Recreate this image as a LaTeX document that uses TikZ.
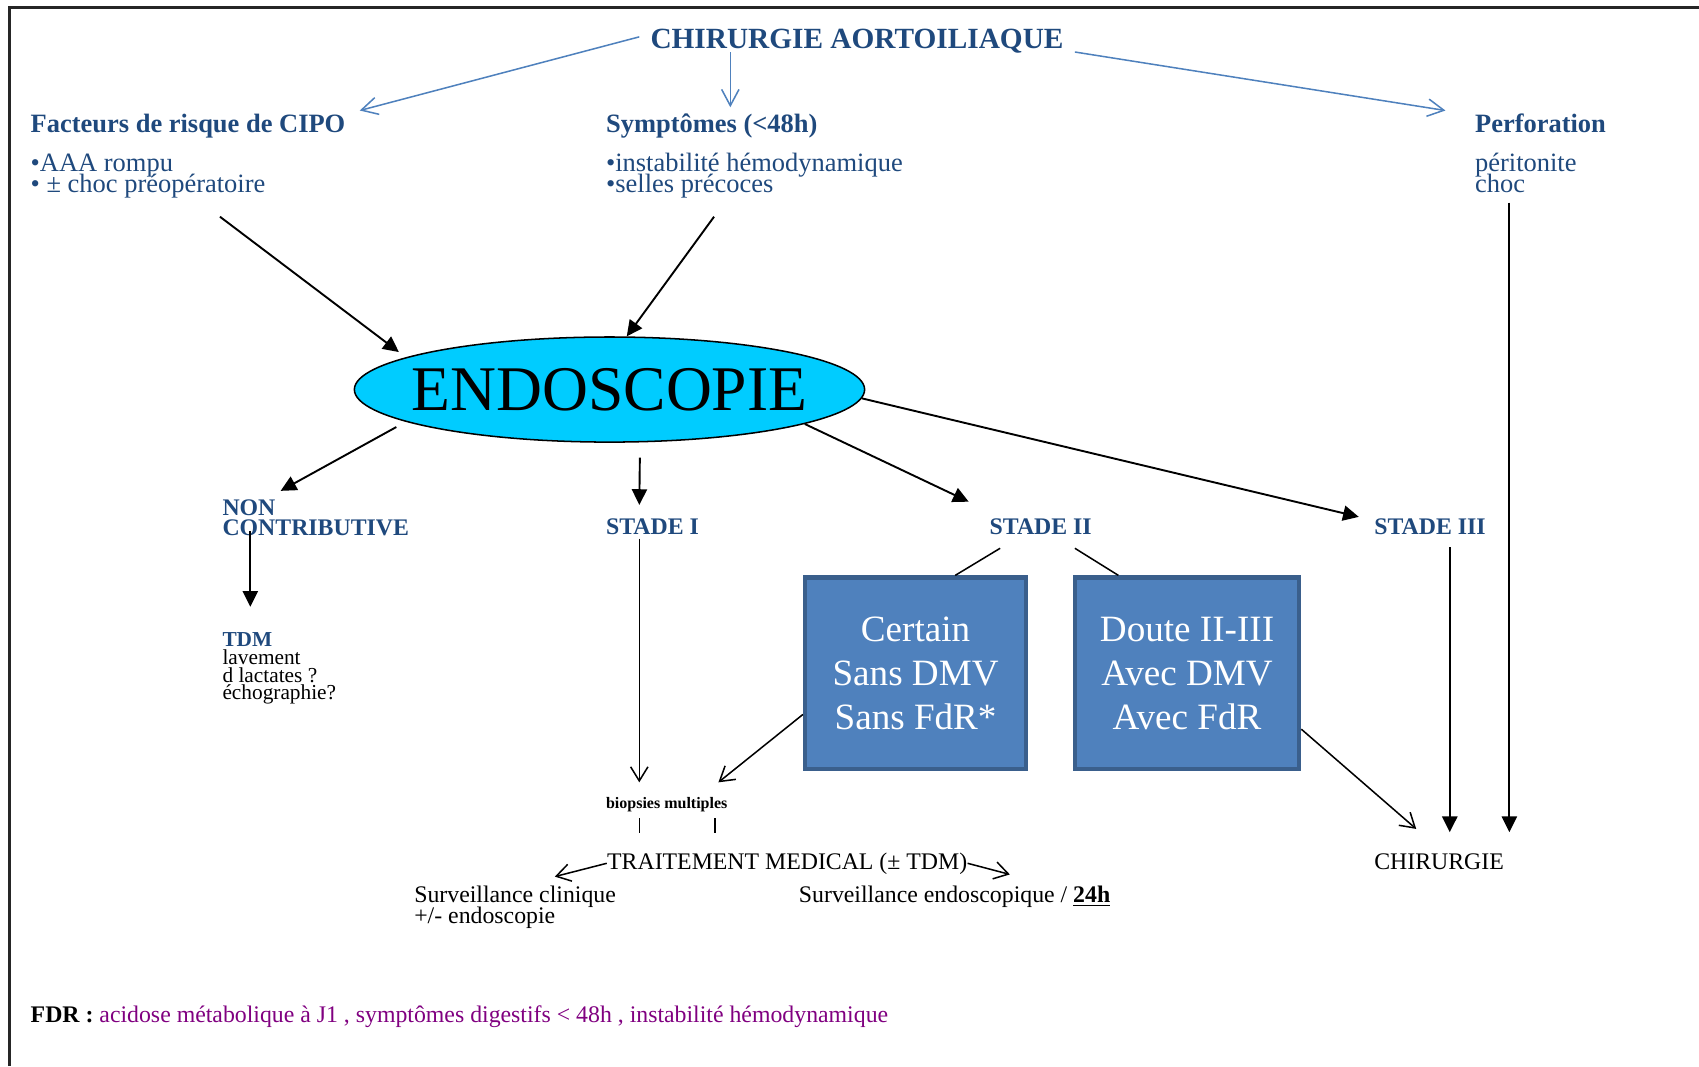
\documentclass[tikz,border=0pt]{standalone}
\usepackage{fontspec}
\setmainfont{Liberation Serif}
\usetikzlibrary{shapes.geometric, arrows.meta}
\setlength{\lineskiplimit}{-100pt}

\definecolor{dblue}{HTML}{1F497D}
\definecolor{lblue}{HTML}{4F81BD}
\definecolor{bfond}{HTML}{4F81BD}
\definecolor{bbord}{HTML}{3A5F8C}
\definecolor{cyanf}{HTML}{00CCFF}
\definecolor{fdrviol}{HTML}{800080}

\begin{document}
\begin{tikzpicture}[x=0.02cm, y=-0.02cm,
    txt/.style={inner sep=0pt, anchor=base west, align=left},
    titre/.style={txt, text=dblue, font=\bfseries\fontsize{15.4}{18}\selectfont},
    tete/.style={txt, text=dblue, font=\bfseries\fontsize{13.9}{16}\selectfont},
    liste/.style={txt, text=dblue, font=\fontsize{13.9}{11}\selectfont},
    stade/.style={txt, text=dblue, font=\bfseries\fontsize{12.5}{10.5}\selectfont},
    petit/.style={txt, font=\fontsize{11.2}{9.4}\selectfont},
    texte/.style={txt, font=\fontsize{12.5}{10.8}\selectfont},
    boite/.style={draw=bbord, fill=bfond, line width=0.08cm, text=white, align=center,
        font=\fontsize{19.5}{23}\selectfont, minimum height=3.54cm, inner sep=0pt},
    fleche/.style={-{Triangle[length=0.29cm, width=0.28cm]}, line width=1pt},
    ouvert/.style={-{Straight Barb[length=0.26cm, width=0.32cm]}, line width=0.8pt},
    bleu/.style={draw=lblue, -{Straight Barb[length=0.3cm, width=0.32cm]}, line width=0.8pt},
]

    % Page frame (cut at right and bottom)
    \useasboundingbox (0,0) rectangle (1568,984);
    \draw[line width=1.6pt, black!85] (9,984) -- (9,7) -- (1568,7);

    % Top row (multi-line nodes sit on their last baseline)
    \node[titre] (titre) at (600,45) {CHIRURGIE AORTOILIAQUE};
    \node[tete] (fdr) at (28,122) {Facteurs de risque de CIPO};
    \node[liste] (fdrl) at (28,178) {•AAA rompu\\• ± choc préopératoire};
    \node[tete] (sympt) at (559,122) {Symptômes (<48h)};
    \node[liste] (symptl) at (559,178) {•instabilité hémodynamique\\•selles précoces};
    \node[tete] (perf) at (1361,122) {Perforation};
    \node[liste] (perfl) at (1361,178) {péritonite\\choc};

    % Endoscopy
    \node[ellipse, draw, fill=cyanf, line width=0.8pt, inner xsep=-0.4cm, inner ysep=0pt,
          minimum width=9.42cm, minimum height=1.94cm,
          font=\fontsize{33.4}{36}\selectfont] (endo) at (562.5,359.5) {ENDOSCOPIE};

    % Stages
    \node[stade] (nonc) at (205,494) {NON\\CONTRIBUTIVE};
    \node[stade] (st1) at (559,493) {STADE I};
    \node[stade] (st2) at (913,493) {STADE II};
    \node[stade] (st3) at (1268,493) {STADE III};

    \node[petit] (tdm) at (205,646) {\textcolor{dblue}{\bfseries TDM}\\lavement\\d lactates ?\\échographie?};

    \node[boite, minimum width=4.08cm] (box1) at (845,621.5) {Certain\\Sans DMV\\Sans FdR*};
    \node[boite, minimum width=4.14cm] (box2) at (1095.5,621.5) {Doute II-III\\Avec DMV\\Avec FdR};

    % Bottom
    \node[txt, font=\bfseries\fontsize{8.4}{10}\selectfont] (biops) at (559,746) {biopsies multiples};
    \node[texte] (trait) at (560,802) {TRAITEMENT MEDICAL (± TDM)};
    \node[texte] (survc) at (382,852) {Surveillance clinique\\+/- endoscopie};
    \node[texte] (surve) at (737,833) {Surveillance endoscopique / \underline{\textbf{24h}}};
    \node[texte] (chir) at (1268,802) {CHIRURGIE};
    \node[texte] (note) at (28,944) {\textbf{FDR :} \textcolor{fdrviol}{acidose métabolique à J1 , symptômes digestifs < 48h , instabilité hémodynamique}};

    % Arrow ends
    \coordinate (t-l) at (590,34);
    \coordinate (t-m) at (674,48);
    \coordinate (t-r) at (992,48);
    \coordinate (f-in) at (332,102);
    \coordinate (s-in) at (674,99);
    \coordinate (p-in) at (1334,102);
    \coordinate (f-out) at (203,200);
    \coordinate (s-out) at (659,200);
    \coordinate (p-out) at (1393,187);
    \coordinate (nc-in) at (259,453);
    \coordinate (s1-in) at (590,466);
    \coordinate (s2-in) at (894,463);
    \coordinate (s3-in) at (1254,477);
    \coordinate (nc-out) at (231,490);
    \coordinate (tdm-in) at (231,560);
    \coordinate (s1-out) at (590,497);
    \coordinate (bio-l) at (590,722);
    \coordinate (bio-r) at (663,722);
    \coordinate (s2-l) at (923,506);
    \coordinate (s2-r) at (992,506);
    \coordinate (s3-out) at (1338,505);
    \coordinate (ch-1) at (1307,765);
    \coordinate (ch-2) at (1338,768);
    \coordinate (ch-3) at (1393,768);
    \coordinate (tk-1) at (590,755);
    \coordinate (tk-1b) at (590,769);
    \coordinate (tk-2) at (660,755);
    \coordinate (tk-2b) at (660,769);
    \coordinate (sc-in) at (512,809);
    \coordinate (se-in) at (932,807);

    % Blue arrows from the title
    \draw[bleu] (t-l) -- (f-in);
    \draw[bleu] (t-m) -- (s-in);
    \draw[bleu] (t-r) -- (p-in);

    % Towards and from the endoscopy
    \draw[fleche, shorten >=0.16cm] (f-out) -- (endo.171);
    \draw[fleche] (s-out) -- (endo.72);
    \draw[fleche, shorten <=0.2cm] (endo.189) -- (nc-in);
    \draw[fleche, shorten <=0.28cm] (endo.300) -- (s1-in);
    \draw[fleche] (endo.350) -- (s2-in);
    \draw[fleche] (endo.358) -- (s3-in);

    \draw[fleche] (nc-out) -- (tdm-in);
    \draw[ouvert] (s1-out) -- (bio-l);
    \draw[line width=0.8pt] (s2-l) -- (box1.68);
    \draw[line width=0.8pt] (s2-r) -- (box2.125);
    \draw[ouvert] (box1.200) -- (bio-r);
    \draw[ouvert] (box2.334) -- (ch-1);
    \draw[fleche] (s3-out) -- (ch-2);
    \draw[fleche] (p-out) -- (ch-3);

    % Medical treatment
    \draw[line width=0.8pt] (tk-1) -- (tk-1b);
    \draw[line width=0.8pt] (tk-2) -- (tk-2b);
    \draw[ouvert] (trait.west) -- (sc-in);
    \draw[ouvert] (trait.east) -- (se-in);

\end{tikzpicture}
\end{document}
